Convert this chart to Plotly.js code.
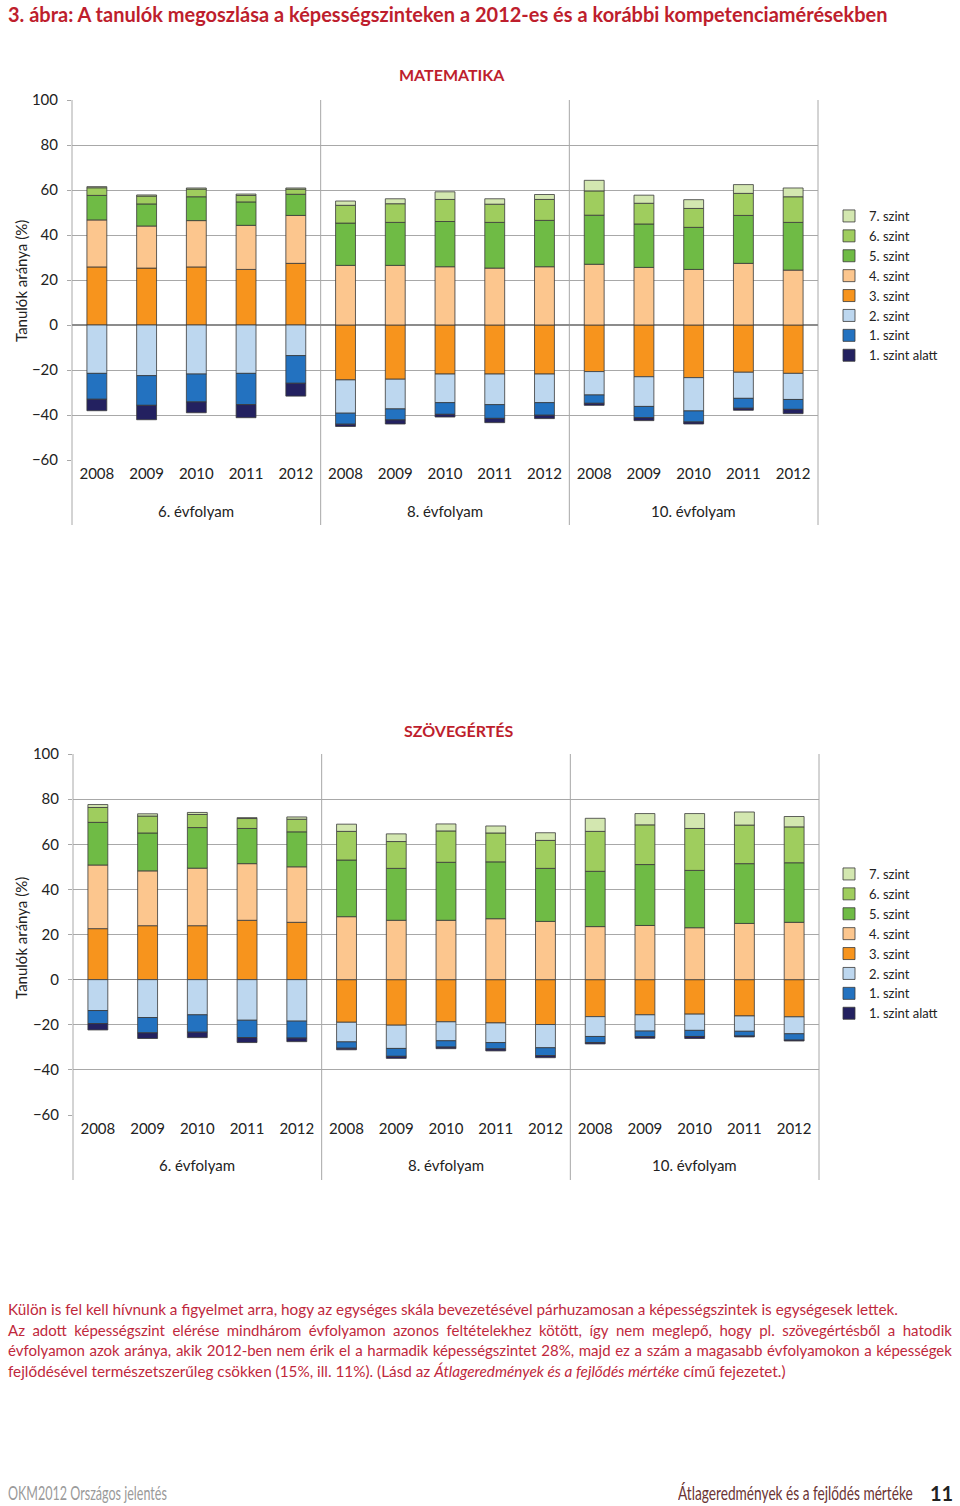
<!DOCTYPE html>
<html><head><meta charset="utf-8">
<script src="https://cdn.plot.ly/plotly-3.0.1.min.js"></script>
<style>
html,body{margin:0;padding:0;background:#fff;}
#page{position:relative;width:960px;height:1506px;overflow:hidden;font-family:Lato,'Open Sans',sans-serif;}
#chart{position:absolute;left:0;top:0;width:960px;height:1506px;}
.ttl{position:absolute;left:8px;top:2px;font-weight:bold;font-size:20px;color:#be1e2d;white-space:nowrap;}
.para{position:absolute;left:8px;top:1299px;width:944px;font-size:15.3px;line-height:20.5px;color:#c0283c;}
.para div{white-space:nowrap;height:20.5px;}
.para .j{display:flex;justify-content:space-between;font-size:15px;}
.foot{position:absolute;top:1481px;font-size:19px;white-space:nowrap;transform-origin:left top;transform:scaleX(0.72);}
</style></head>
<body><div id="page">
<div id="chart"></div>
<div class="ttl">3. ábra: A tanulók megoszlása a képességszinteken a 2012-es és a korábbi kompetenciamérésekben</div>
<div class="para">
<div>Külön is fel kell hívnunk a figyelmet arra, hogy az egységes skála bevezetésével párhuzamosan a képességszintek is egységesek lettek.</div>
<div class="j" data-line="Az adott képességszint elérése mindhárom évfolyamon azonos feltételekhez kötött, így nem meglepő, hogy pl. szövegértésből a hatodik"></div>
<div class="j" data-line="évfolyamon azok aránya, akik 2012-ben nem érik el a harmadik képességszintet 28%, majd ez a szám a magasabb évfolyamokon a képességek"></div>
<div>fejlődésével természetszerűleg csökken (15%, ill. 11%). (Lásd az <i>Átlageredmények és a fejlődés mértéke</i> című fejezetet.)</div>
</div>
<div class="foot" style="left:8px;color:#9a9a9a;transform:scaleX(0.66);">OKM2012 Országos jelentés</div>
<div class="foot" style="left:678px;color:#6b3434;">Átlageredmények és a fejlődés mértéke</div>
<div class="foot" style="left:930px;color:#222;font-weight:bold;transform:none;font-size:20px;">11</div>
</div>
<script>
// justified lines: one span per word
document.querySelectorAll('.para .j').forEach(el => {
  el.getAttribute('data-line').split(' ').forEach(w => {
    const s = document.createElement('span'); s.textContent = w; el.appendChild(s);
  });
});

// ---- categories ----
const grades = ['6. évfolyam', '8. évfolyam', '10. évfolyam'];
const years = ['2008', '2009', '2010', '2011', '2012'];
const levelNames = ['7. szint', '6. szint', '5. szint', '4. szint', '3. szint', '2. szint', '1. szint', '1. szint alatt'];
const levelColors = ['#d3e7b0', '#9fcd5e', '#6fbb45', '#fcc68e', '#f7941d', '#bdd7ef', '#2372c0', '#232160'];

// ---- MATEMATIKA (% ; order: 6./8./10. évfolyam x 2008..2012) ----
const matSzint7 = [0.5, 0.5, 0.5, 0.6, 0.5, 1.9, 2.2, 3.4, 2.4, 2.2, 4.7, 3.6, 3.9, 3.9, 3.9];
const matSzint6 = [3.4, 3.5, 3.4, 2.9, 2.3, 7.9, 8.3, 9.8, 8.1, 9.3, 10.8, 9.2, 8.4, 9.8, 11.4];
const matSzint5 = [10.9, 9.8, 10.6, 10.4, 9.4, 18.8, 19.1, 20.1, 20.3, 20.6, 21.8, 19.3, 18.7, 21.3, 21.2];
const matSzint4 = [20.9, 18.7, 20.6, 19.6, 21.3, 26.5, 26.5, 25.9, 25.3, 25.9, 27.0, 25.6, 24.7, 27.4, 24.4];
const matSzint3 = [25.8, 25.3, 25.8, 24.7, 27.4, -24.4, -24.1, -21.8, -21.8, -21.8, -20.7, -23.0, -23.4, -21.0, -21.5];
const matSzint2 = [-21.5, -22.5, -21.8, -21.5, -13.6, -14.8, -13.2, -12.7, -13.6, -12.7, -10.4, -13.2, -14.8, -11.6, -11.6];
const matSzint1 = [-11.5, -13.2, -12.4, -13.9, -12.3, -4.9, -4.9, -5.2, -6.1, -5.6, -3.7, -5.0, -4.9, -4.4, -4.4];
const matAlatt = [-5.1, -6.4, -4.8, -5.8, -5.7, -1.0, -1.8, -1.2, -1.9, -1.5, -0.9, -1.3, -0.9, -0.9, -1.9];

// ---- SZÖVEGÉRTÉS ----
const szovSzint7 = [1.3, 1.0, 0.9, 0.4, 1.0, 3.2, 3.4, 3.1, 3.1, 3.4, 5.8, 5.0, 6.6, 5.8, 4.6];
const szovSzint6 = [6.6, 7.5, 5.8, 4.4, 5.6, 12.7, 11.9, 13.9, 12.8, 12.4, 17.7, 17.6, 18.6, 17.1, 15.9];
const szovSzint5 = [18.9, 16.8, 18.0, 15.6, 15.5, 25.1, 23.0, 25.7, 25.2, 23.5, 24.5, 27.0, 25.4, 26.5, 26.4];
const szovSzint4 = [28.2, 24.3, 25.5, 25.1, 24.6, 27.9, 26.3, 26.3, 27.0, 25.8, 23.5, 24.0, 23.0, 24.9, 25.4];
const szovSzint3 = [22.6, 23.9, 23.9, 26.3, 25.4, -18.9, -20.2, -18.7, -19.2, -19.9, -16.4, -15.6, -15.3, -16.1, -16.5];
const szovSzint2 = [-13.7, -16.8, -15.6, -18.0, -18.4, -8.7, -10.3, -8.4, -8.7, -10.3, -8.8, -7.2, -7.2, -6.8, -7.5];
const szovSzint1 = [-5.8, -6.8, -7.7, -7.7, -7.5, -2.8, -3.5, -2.8, -2.8, -3.5, -2.7, -2.5, -2.7, -2.1, -2.8];
const szovAlatt = [-2.8, -2.5, -2.4, -2.2, -1.6, -0.7, -0.9, -0.7, -0.9, -0.9, -0.6, -0.7, -0.9, -0.4, -0.4];

const yTickVals = [-60, -40, -20, 0, 20, 40, 60, 80, 100];

// ---- build ----
const H = 1506, W = 960;
const keys = [];
const tickLabels = [];
grades.forEach(g => years.forEach(y => { keys.push(g + ' ' + y); tickLabels.push(y); }));

const matSeries = [matSzint7, matSzint6, matSzint5, matSzint4, matSzint3, matSzint2, matSzint1, matAlatt];
const szovSeries = [szovSzint7, szovSzint6, szovSzint5, szovSzint4, szovSzint3, szovSzint2, szovSzint1, szovAlatt];
// stacking order: 3,4,5,6,7 upward; 3 (neg),2,1,alatt downward
const stackOrder = [4, 3, 2, 1, 0, 5, 6, 7];

function makeTraces(series, xa, ya, leg) {
  return stackOrder.map(i => ({
    type: 'bar', x: keys, y: series[i], name: levelNames[i],
    xaxis: xa, yaxis: ya, legend: leg, legendrank: i + 1,
    marker: {color: levelColors[i], line: {color: '#3a3a3a', width: 0.8}},
    hoverinfo: 'skip'
  }));
}
const data = makeTraces(matSeries, 'x', 'y', 'legend').concat(makeTraces(szovSeries, 'x2', 'y2', 'legend2'));

const py = p => 1 - p / H;
const charts = [
  {top: 100, bot: 460, left: 72, right: 818, sepBot: 525, yrLab: 511, title: 'MATEMATIKA', titleX: 452, titleY: 75, legTop: 201, yTitleC: 281},
  {top: 754, bot: 1115, left: 73, right: 819, sepBot: 1180, yrLab: 1165, title: 'SZÖVEGÉRTÉS', titleX: 458, titleY: 730, legTop: 859, yTitleC: 938}
];
const font = {family: 'Lato, "Open Sans", sans-serif', size: 15, color: '#222'};
const layout = {
  width: W, height: H, autosize: false,
  margin: {l: 0, r: 0, t: 0, b: 0},
  paper_bgcolor: 'rgba(0,0,0,0)', plot_bgcolor: 'rgba(0,0,0,0)',
  font: font, barmode: 'relative', bargap: 0.6,
  shapes: [], annotations: []
};
charts.forEach((c, k) => {
  const sfx = k === 0 ? '' : '2';
  layout['xaxis' + sfx] = {
    domain: [c.left / W, c.right / W], anchor: 'y' + sfx, type: 'category',
    tickmode: 'array', tickvals: keys, ticktext: tickLabels,
    range: [-0.5, keys.length - 0.5], showgrid: false, showline: false, zeroline: false,
    ticks: '', ticklabelstandoff: 3, tickfont: {size: 15, color: '#222'}, fixedrange: true
  };
  layout['yaxis' + sfx] = {
    domain: [py(c.bot), py(c.top)], anchor: 'x' + sfx, range: [-60, 100],
    tickmode: 'array', tickvals: yTickVals,
    gridcolor: '#a8a8a8', gridwidth: 1, zeroline: true, zerolinecolor: '#8c8c8c', zerolinewidth: 1.2,
    showline: false, ticks: 'outside', ticklen: 4, tickcolor: '#a8a8a8', ticklabelstandoff: 6,
    tickfont: {size: 15, color: '#222'}, fixedrange: true
  };
  layout['legend' + sfx] = {
    x: 829 / W, xanchor: 'left', y: py(c.legTop), yanchor: 'top',
    font: {size: 13, color: '#222'}, bgcolor: 'rgba(0,0,0,0)', tracegroupgap: 0,
    traceorder: 'normal', itemwidth: 30
  };
  const nG = grades.length;
  for (let i = 0; i <= nG; i++) {
    layout.shapes.push({type: 'line', xref: 'x' + sfx + ' domain', yref: 'paper',
      x0: i / nG, x1: i / nG, y0: py(c.sepBot), y1: py(c.top),
      line: {color: '#a8a8a8', width: 1}, layer: 'below'});
  }
  grades.forEach((g, gi) => {
    layout.annotations.push({xref: 'x' + sfx + ' domain', yref: 'paper', x: (gi + 0.5) / nG, y: py(c.yrLab),
      text: g, showarrow: false, font: {size: 15, color: '#222'}, xanchor: 'center', yanchor: 'middle'});
  });
  layout.annotations.push({xref: 'paper', yref: 'paper', x: c.titleX / W, y: py(c.titleY), text: '<b>' + c.title + '</b>',
    showarrow: false, font: {size: 16, color: '#be1e2d'}, xanchor: 'center', yanchor: 'middle'});
  layout.annotations.push({xref: 'paper', yref: 'paper', x: 21 / W, y: py(c.yTitleC), text: 'Tanulók aránya (%)',
    textangle: -90, showarrow: false, font: {size: 15, color: '#222'}, xanchor: 'center', yanchor: 'middle'});
});
Plotly.newPlot('chart', data, layout, {staticPlot: true, displayModeBar: false});
</script>
</body></html>
